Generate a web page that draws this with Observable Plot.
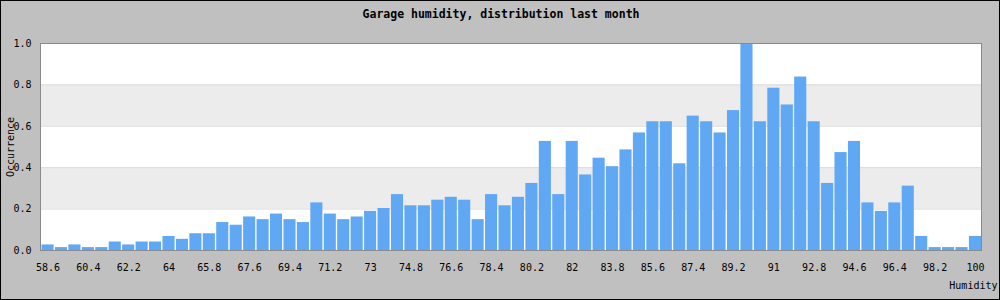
<!DOCTYPE html>
<html>
<head>
<meta charset="utf-8">
<script src="https://cdn.jsdelivr.net/npm/d3@7"></script>
<script src="https://cdn.jsdelivr.net/npm/@observablehq/plot@0.6"></script>
<style>
  html, body { margin: 0; padding: 0; background: #c0c0c0; }
  svg { display: block; outline: 1px solid #000; outline-offset: -1px; }
</style>
</head>
<body>
<div id="chart"></div>
<script>
const title = "Garage humidity, distribution last month";
const xLabel = "Humidity";
const yLabel = "Occurrence";

const humidity = [
  58.6, 59.2, 59.8, 60.4, 61.0, 61.6, 62.2, 62.8, 63.4, 64.0,
  64.6, 65.2, 65.8, 66.4, 67.0, 67.6, 68.2, 68.8, 69.4, 70.0,
  70.6, 71.2, 71.8, 72.4, 73.0, 73.6, 74.2, 74.8, 75.4, 76.0,
  76.6, 77.2, 77.8, 78.4, 79.0, 79.6, 80.2, 80.8, 81.4, 82.0,
  82.6, 83.2, 83.8, 84.4, 85.0, 85.6, 86.2, 86.8, 87.4, 88.0,
  88.6, 89.2, 89.8, 90.4, 91.0, 91.6, 92.2, 92.8, 93.4, 94.0,
  94.6, 95.2, 95.8, 96.4, 97.0, 97.6, 98.2, 98.8, 99.4, 100.0
];

const occurrence = [
  0.027, 0.014, 0.027, 0.014, 0.014, 0.041, 0.027, 0.041, 0.041, 0.068,
  0.054, 0.081, 0.081, 0.135, 0.122, 0.162, 0.149, 0.176, 0.149, 0.135,
  0.230, 0.176, 0.149, 0.162, 0.189, 0.203, 0.270, 0.216, 0.216, 0.243,
  0.257, 0.243, 0.149, 0.270, 0.216, 0.257, 0.324, 0.527, 0.270, 0.527,
  0.365, 0.446, 0.405, 0.486, 0.568, 0.622, 0.622, 0.419, 0.649, 0.622,
  0.568, 0.676, 1.000, 0.622, 0.784, 0.703, 0.838, 0.622, 0.324, 0.473,
  0.527, 0.230, 0.189, 0.230, 0.311, 0.068, 0.014, 0.014, 0.014, 0.068
];

const xTicks = [58.6, 60.4, 62.2, 64.0, 65.8, 67.6, 69.4, 71.2, 73.0, 74.8, 76.6, 78.4,
                80.2, 82.0, 83.8, 85.6, 87.4, 89.2, 91.0, 92.8, 94.6, 96.4, 98.2, 100.0];
const yTicks = [0, 0.2, 0.4, 0.6, 0.8, 1.0];
const bands = [[0.2, 0.4], [0.6, 0.8]];

const data = humidity.map((h, i) => ({h, v: occurrence[i]}));

const chart = Plot.plot({
  width: 1000,
  height: 300,
  marginTop: 43,
  marginLeft: 40,
  marginRight: 19,
  marginBottom: 50,
  style: {background: "#c0c0c0", fontFamily: "'DejaVu Sans Mono', monospace", fontSize: "10px", color: "#000"},
  x: {type: "band", domain: humidity, padding: 0.1, paddingOuter: 0, insetLeft: 1.5},
  y: {domain: [0, 1]},
  marks: [
    Plot.frame({fill: "#ffffff"}),
    Plot.rect(bands, {y1: d => d[0], y2: d => d[1], fill: "#ececec"}),
    Plot.ruleY(yTicks.slice(1, -1), {stroke: "#dcdcdc", strokeWidth: 1}),
    Plot.barY(data, {x: "h", y: "v", fill: "#60a8f4"}),
    Plot.frame({stroke: "#8a8a8a"}),
    Plot.axisX({ticks: xTicks, tickSize: 0, tickPadding: 13, tickFormat: d => String(d),
      label: xLabel, labelAnchor: "right", labelArrow: "none", labelOffset: 38}),
    Plot.axisY({ticks: yTicks, tickSize: 0, tickPadding: 9, tickFormat: d3.format(".1f"),
      label: yLabel, labelAnchor: "center", labelArrow: "none", labelOffset: 34}),
    Plot.text([title], {text: d => d, frameAnchor: "top", dx: -10, dy: -34,
      fontWeight: "bold", fontSize: 11.5, fill: "#000"})
  ]
});
document.getElementById("chart").appendChild(chart);
</script>
</body>
</html>
